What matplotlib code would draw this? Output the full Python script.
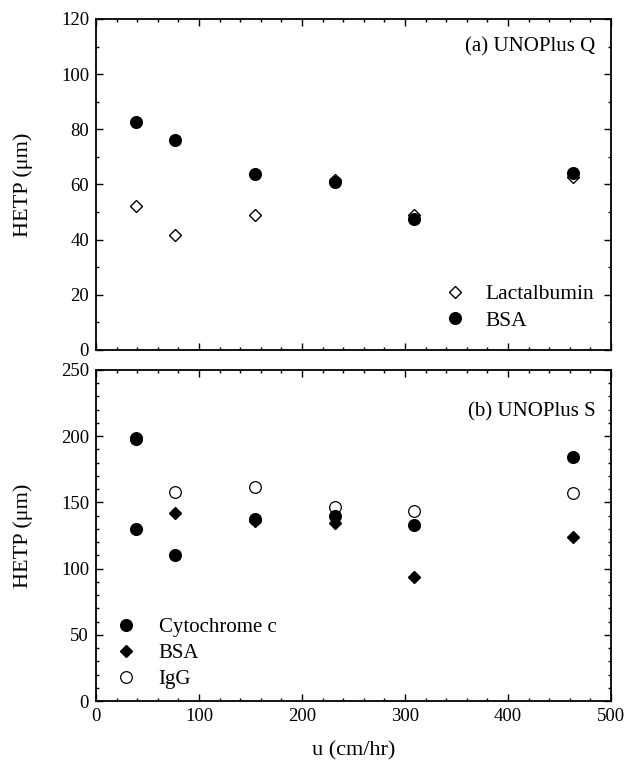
import matplotlib
matplotlib.use("Agg")
import matplotlib.pyplot as plt
from matplotlib.ticker import MultipleLocator

plt.rcParams['font.family'] = ['Liberation Serif', 'DejaVu Serif']
plt.rcParams['mathtext.fontset'] = 'stix'

# Superficial velocity (cm/hr)
u = [38.5, 77, 154, 232, 309, 463]

# (a) UNOPlus Q
q_lactalbumin = [52.2, 41.6, 48.9, 61.8, 49.1, 62.6]
q_bsa = [82.5, 76.1, 63.9, 60.9, 47.5, 64.0]

# (b) UNOPlus S
s_cyt_u = [38.5, 38.5, 77, 154, 232, 309, 463]
s_cyt = [197.8, 129.8, 110.3, 137.3, 139.7, 133.3, 184.6]
s_bsa_u = [77, 154, 232, 309, 463]
s_bsa = [142.3, 135.8, 134.2, 93.8, 124.0]
s_igg_u = [38.5, 77, 154, 232, 309, 463]
s_igg = [199.0, 157.7, 161.6, 146.9, 143.2, 156.8]

fig = plt.figure(figsize=(6.32, 7.6), dpi=100)
L, R = 96 / 632, 611 / 632
ax1 = fig.add_axes([L, 1 - 350 / 760, R - L, (350 - 19) / 760])
ax2 = fig.add_axes([L, 1 - 701 / 760, R - L, (701 - 370) / 760])

ms_c = 8.4
ms_d = 6.0

ax1.plot(u, q_lactalbumin, ls='none', marker='D', ms=ms_d, mfc='white',
         mec='black', mew=1.0, label='Lactalbumin')
ax1.plot(u, q_bsa, ls='none', marker='o', ms=ms_c, mfc='black',
         mec='black', label='BSA')

ax2.plot(s_igg_u, s_igg, ls='none', marker='o', ms=ms_c, mfc='white',
         mec='black', mew=0.9, label='IgG', zorder=2)
ax2.plot(s_bsa_u, s_bsa, ls='none', marker='D', ms=ms_d, mfc='black',
         mec='black', label='BSA', zorder=3)
ax2.plot(s_cyt_u, s_cyt, ls='none', marker='o', ms=ms_c, mfc='black',
         mec='black', label='Cytochrome c', zorder=4)

for ax in (ax1, ax2):
    ax.set_xlim(0, 500)
    ax.xaxis.set_major_locator(MultipleLocator(100))
    ax.xaxis.set_minor_locator(MultipleLocator(20))
    ax.tick_params(which='both', direction='in', top=True, right=True,
                   labelsize=13.5, width=1.0, pad=5)
    ax.tick_params(which='major', length=5)
    ax.tick_params(which='minor', length=2.5)
    for sp in ax.spines.values():
        sp.set_linewidth(1.3)
    ax.set_ylabel('HETP (μm)', fontsize=16, labelpad=20)

ax1.set_ylim(0, 120)
ax1.yaxis.set_major_locator(MultipleLocator(20))
ax1.yaxis.set_minor_locator(MultipleLocator(10))
ax1.tick_params(axis='x', labelbottom=False)
ax1.text(0.97, 0.915, '(a) UNOPlus Q', transform=ax1.transAxes,
         ha='right', va='center', fontsize=15)
ax1.legend(loc='lower right', bbox_to_anchor=(0.997, 0.012),
           frameon=False, fontsize=15.5, handletextpad=0.45,
           labelspacing=0.3, borderaxespad=0.3)

ax2.set_ylim(0, 250)
ax2.yaxis.set_major_locator(MultipleLocator(50))
ax2.yaxis.set_minor_locator(MultipleLocator(10))
ax2.set_xlabel('u (cm/hr)', fontsize=16, labelpad=12)
ax2.text(0.97, 0.875, '(b) UNOPlus S', transform=ax2.transAxes,
         ha='right', va='center', fontsize=15)
h, l = ax2.get_legend_handles_labels()
order = [2, 1, 0]
ax2.legend([h[i] for i in order], [l[i] for i in order], loc='lower left',
           bbox_to_anchor=(-0.018, -0.02), frameon=False, fontsize=15,
           handletextpad=0.55, labelspacing=0.3)

fig.savefig('out.png', dpi=100)
